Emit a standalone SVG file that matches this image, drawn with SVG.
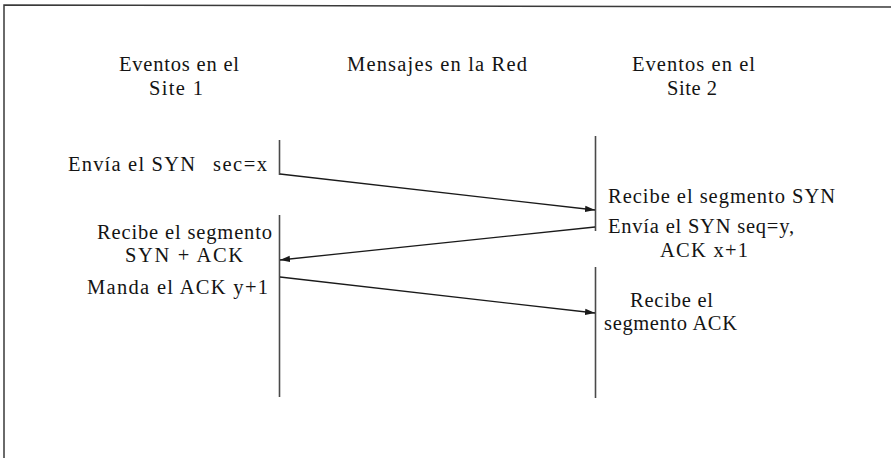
<svg xmlns="http://www.w3.org/2000/svg" width="891" height="458" viewBox="0 0 891 458">
  <style>
    text { font-family: "Liberation Serif", "Times New Roman", serif; font-size: 20.5px; fill: #141414; }
    .frame { stroke: #3a3a3a; stroke-width: 1.5; fill: none; }
    .life { stroke: #4a4a4a; stroke-width: 1.6; fill: none; }
    .msg { stroke: #1a1a1a; stroke-width: 1.3; fill: none; marker-end: url(#head); }
  </style>
  <defs>
    <marker id="head" viewBox="0 0 10 8" refX="10" refY="4" markerWidth="10" markerHeight="8" markerUnits="userSpaceOnUse" orient="auto">
      <path d="M0,0.8 L10,4 L0,7.2 Z" fill="#1a1a1a"/>
    </marker>
  </defs>

  <rect width="891" height="458" fill="#ffffff"/>

  <!-- page frame -->
  <g id="frame">
    <path class="frame" d="M4,458 L4,5 L891,7"/>
  </g>

  <!-- column headings -->
  <g id="head-site1">
    <text x="119" y="71" textLength="120" lengthAdjust="spacing">Eventos en el</text>
    <text x="149" y="95" textLength="54" lengthAdjust="spacing">Site 1</text>
  </g>
  <g id="head-red">
    <text x="347" y="71" textLength="180" lengthAdjust="spacing">Mensajes en la Red</text>
  </g>
  <g id="head-site2">
    <text x="632" y="71" textLength="123" lengthAdjust="spacing">Eventos en el</text>
    <text x="667" y="95" textLength="50" lengthAdjust="spacing">Site 2</text>
  </g>

  <!-- timelines -->
  <g id="timeline-site1">
    <line class="life" x1="279.5" y1="140" x2="279.5" y2="175"/>
    <line class="life" x1="279.5" y1="215" x2="279.5" y2="397"/>
  </g>
  <g id="timeline-site2">
    <line class="life" x1="595.5" y1="136" x2="595.5" y2="231"/>
    <line class="life" x1="595.5" y1="267" x2="595.5" y2="398"/>
  </g>

  <!-- events at site 1 -->
  <g id="ev-send-syn">
    <text x="68" y="171" textLength="127" lengthAdjust="spacing">Envía el SYN</text>
    <text x="213" y="171" textLength="54" lengthAdjust="spacing">sec=x</text>
  </g>
  <g id="ev-recv-synack">
    <text x="97" y="239" textLength="175" lengthAdjust="spacing">Recibe el segmento</text>
    <text x="125" y="262" textLength="118" lengthAdjust="spacing">SYN + ACK</text>
  </g>
  <g id="ev-send-ack">
    <text x="87" y="294" textLength="181" lengthAdjust="spacing">Manda el ACK y+1</text>
  </g>

  <!-- events at site 2 -->
  <g id="ev-recv-syn">
    <text x="608" y="203" textLength="227" lengthAdjust="spacing">Recibe el segmento SYN</text>
  </g>
  <g id="ev-send-synack">
    <text x="608" y="233" textLength="186" lengthAdjust="spacing">Envía el SYN seq=y,</text>
    <text x="660" y="257" textLength="88" lengthAdjust="spacing">ACK x+1</text>
  </g>
  <g id="ev-recv-ack">
    <text x="630" y="307" textLength="83" lengthAdjust="spacing">Recibe el</text>
    <text x="604" y="330" textLength="133" lengthAdjust="spacing">segmento ACK</text>
  </g>

  <!-- messages -->
  <g id="connectors">
    <line class="msg" x1="280" y1="174" x2="595" y2="210"/>
    <line class="msg" x1="595" y1="227" x2="280" y2="260"/>
    <line class="msg" x1="280" y1="277" x2="595" y2="313"/>
  </g>
</svg>
